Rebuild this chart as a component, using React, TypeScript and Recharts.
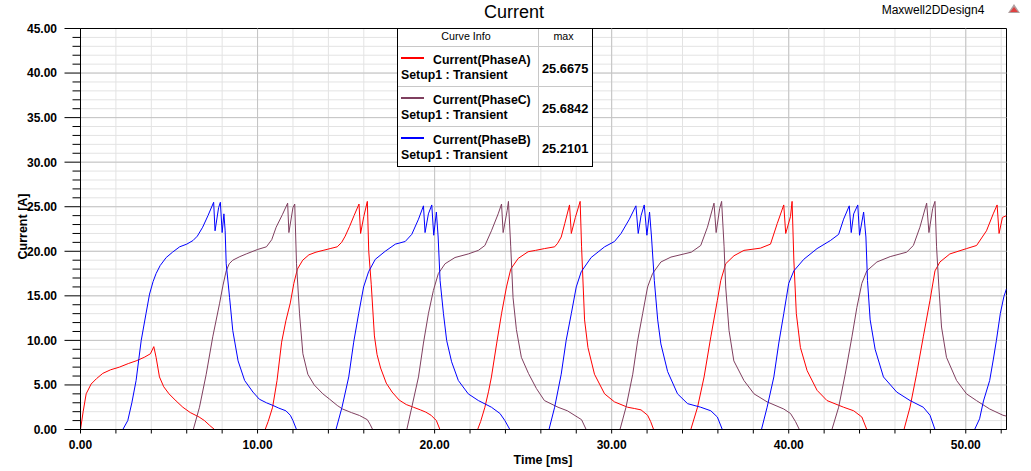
import React from "react";
import { LineChart, Line, XAxis, YAxis, CartesianGrid, ReferenceLine, ReferenceArea } from "recharts";

const FONT = "Arial, 'Liberation Sans', sans-serif";

// [time ms, current A]; null breaks between pulses
const phaseA: [number, number | null][] = [
  [0, 0], [0.15, 2.0], [0.32, 4.0], [0.6, 5.1], [0.9, 5.7], [1.26, 6.3], [1.7, 6.7], [2.2, 7.0], [2.7, 7.4], [3.14, 7.7], [3.6, 8.1], [3.95, 8.5], [4.14, 9.3], [4.27, 8.1], [4.46, 5.9], [4.7, 4.8], [5.0, 4.0], [5.4, 3.2], [5.78, 2.5], [6.2, 1.9], [6.7, 1.4], [7.0, 1.0], [7.3, 0.45], [7.57, 0],
  [9, null],
  [10.43, 0], [10.6, 0.9], [10.85, 2.5], [11.1, 5.5], [11.36, 9.8], [11.6, 12.2], [11.85, 14.2], [12.05, 16.4], [12.25, 18.0], [12.55, 19.0], [12.9, 19.6], [13.3, 19.9], [13.7, 20.1], [14.1, 20.3], [14.5, 20.5], [14.75, 21.0], [14.95, 21.7], [15.2, 22.8], [15.45, 24.0], [15.73, 25.3], [15.82, 22.0], [16.0, 23.9], [16.2, 25.6], [16.28, 20.0], [16.42, 16.3], [16.6, 10.5], [16.75, 8.4], [16.95, 6.9], [17.27, 5.2], [17.6, 4.2], [18.0, 3.3], [18.4, 2.8], [18.8, 2.5], [19.2, 2.2], [19.5, 1.95], [19.8, 1.6], [20.1, 1.0], [20.3, 0],
  [21, null],
  [22.43, 0], [22.6, 0.9], [22.84, 2.5], [23.05, 4.3], [23.21, 5.9], [23.5, 9.6], [23.78, 13.0], [24.06, 16.0], [24.3, 18.0], [24.72, 19.2], [25.28, 19.95], [25.7, 20.1], [26.2, 20.3], [26.78, 20.5], [26.95, 20.9], [27.15, 21.6], [27.35, 23.1], [27.62, 25.2], [27.72, 22.0], [27.95, 23.8], [28.22, 25.6], [28.3, 20.5], [28.47, 12.3], [28.66, 9.2], [29.03, 6.2], [29.6, 4.0], [30.16, 3.1], [30.9, 2.5], [31.3, 2.35], [31.66, 2.2], [32.03, 1.6], [32.2, 0.9], [32.37, 0],
  [33, null],
  [34.47, 0], [34.85, 2.5], [35.22, 5.9], [35.6, 10.4], [35.97, 14.5], [36.16, 16.7], [36.44, 18.6], [36.91, 19.5], [37.47, 20.1], [38.4, 20.35], [38.97, 20.8], [39.35, 23.1], [39.72, 25.2], [39.83, 22.0], [40.1, 23.9], [40.19, 25.6], [40.29, 19.0], [40.43, 13.0], [40.66, 9.2], [41.04, 6.6], [41.6, 4.4], [42.16, 3.25], [43.1, 2.5], [43.67, 2.1], [44.13, 1.4], [44.41, 0],
  [45, null],
  [46.51, 0], [46.85, 2.5], [47.22, 6.2], [47.6, 10.4], [47.98, 14.5], [48.26, 17.8], [48.54, 18.8], [49.1, 19.7], [50.04, 20.3], [50.61, 20.65], [51.17, 22.3], [51.55, 24.2], [51.77, 25.2], [51.88, 22.0], [52.07, 23.8], [52.3, 24.0],
];

const phaseC: [number, number | null][] = [
  [6.37, 0], [6.72, 2.5], [7.1, 6.2], [7.47, 10.4], [7.85, 14.1], [8.05, 16.2], [8.23, 17.8], [8.4, 18.6], [8.6, 19.0], [9.0, 19.4], [9.36, 19.7], [10.0, 20.2], [10.5, 20.5], [10.8, 21.3], [11.05, 22.7], [11.4, 24.1], [11.7, 25.4], [11.77, 22.1], [12.0, 24.9], [12.1, 25.3], [12.2, 18.6], [12.37, 13.0], [12.56, 8.5], [12.84, 6.2], [13.2, 5.0], [13.69, 4.0], [14.07, 3.4], [14.5, 2.7], [14.8, 2.3], [15.3, 1.9], [15.76, 1.57], [16.2, 1.1], [16.35, 0.6], [16.5, 0],
  [17, null],
  [18.43, 0], [18.71, 2.5], [19.09, 5.9], [19.37, 9.7], [19.65, 13.0], [19.93, 15.6], [20.21, 17.5], [20.59, 18.6], [21.15, 19.3], [21.9, 19.7], [22.47, 20.1], [22.84, 20.65], [23.21, 22.3], [23.59, 24.2], [23.78, 25.3], [23.87, 22.1], [24.1, 24.6], [24.17, 25.6], [24.3, 20.5], [24.43, 14.8], [24.62, 11.2], [24.9, 8.1], [25.3, 6.3], [25.75, 4.6], [26.2, 3.25], [26.97, 2.5], [27.5, 2.1], [28.3, 1.1], [28.56, 0],
  [29, null],
  [30.47, 0], [30.81, 2.5], [31.19, 6.2], [31.47, 10.0], [31.75, 13.0], [32.03, 16.0], [32.31, 17.5], [32.78, 18.8], [33.35, 19.35], [34.5, 19.9], [35.03, 20.65], [35.41, 22.7], [35.78, 25.4], [35.9, 22.1], [36.1, 24.8], [36.21, 25.6], [36.35, 20.5], [36.44, 16.0], [36.63, 11.1], [36.9, 7.7], [37.47, 5.5], [38.04, 4.0], [38.78, 3.1], [39.72, 2.3], [40.1, 1.8], [40.38, 0.9], [40.6, 0],
  [41, null],
  [42.44, 0], [42.82, 2.5], [43.19, 6.2], [43.57, 10.4], [43.85, 13.7], [44.13, 16.4], [44.41, 17.8], [44.98, 18.8], [45.73, 19.4], [46.66, 19.9], [47.04, 20.65], [47.41, 22.7], [47.79, 25.4], [47.92, 22.1], [48.13, 24.8], [48.26, 25.6], [48.35, 20.5], [48.48, 16.0], [48.63, 11.5], [48.91, 8.1], [49.48, 5.5], [50.04, 4.0], [50.6, 3.25], [51.35, 2.3], [52.1, 1.6], [52.3, 1.5],
];

const phaseB: [number, number | null][] = [
  [2.39, 0], [2.67, 1.0], [2.9, 3.0], [3.14, 5.5], [3.3, 8.0], [3.43, 10.0], [3.7, 13.0], [3.9, 15.2], [4.1, 16.6], [4.27, 17.5], [4.5, 18.4], [4.84, 19.3], [5.2, 19.9], [5.6, 20.5], [6.0, 20.8], [6.35, 21.2], [6.6, 21.7], [6.9, 22.7], [7.2, 24.0], [7.52, 25.5], [7.6, 22.3], [7.8, 24.9], [7.9, 25.5], [8.0, 22.1], [8.1, 24.2], [8.17, 22.3], [8.23, 18.6], [8.42, 14.8], [8.6, 11.1], [8.9, 7.7], [9.27, 5.5], [9.74, 4.2], [10.1, 3.4], [10.5, 3.0], [10.87, 2.7], [11.2, 2.4], [11.6, 2.1], [11.85, 1.6], [12.0, 1.0], [12.2, 0],
  [13, null],
  [14.43, 0], [14.77, 2.5], [15.15, 5.9], [15.43, 9.8], [15.71, 13.0], [15.99, 16.0], [16.27, 17.7], [16.65, 19.1], [17.21, 20.0], [17.78, 20.8], [18.34, 21.1], [18.71, 21.9], [19.09, 23.6], [19.37, 25.1], [19.46, 22.1], [19.65, 24.2], [19.84, 25.2], [19.95, 21.8], [20.1, 24.4], [20.2, 21.6], [20.31, 16.7], [20.5, 13.0], [20.68, 10.0], [20.96, 7.6], [21.34, 5.5], [21.9, 4.0], [22.47, 3.25], [23.21, 2.5], [23.69, 1.8], [23.97, 1.0], [24.25, 0],
  [25, null],
  [26.46, 0], [26.78, 2.5], [27.15, 6.2], [27.43, 10.0], [27.72, 13.0], [28.0, 16.0], [28.28, 17.7], [28.84, 19.3], [29.6, 20.5], [30.16, 21.1], [30.53, 22.0], [31.0, 23.6], [31.37, 25.1], [31.5, 22.0], [31.66, 24.0], [31.84, 25.2], [31.99, 21.8], [32.14, 24.4], [32.25, 21.6], [32.41, 16.7], [32.6, 12.3], [32.78, 9.6], [33.16, 6.5], [33.72, 4.0], [34.29, 2.9], [35.03, 2.5], [35.6, 2.1], [35.97, 1.4], [36.25, 0],
  [37, null],
  [38.46, 0], [38.78, 2.5], [39.16, 5.9], [39.44, 9.7], [39.72, 13.0], [40.0, 16.4], [40.29, 17.8], [40.85, 19.1], [41.6, 20.3], [42.35, 21.2], [42.82, 21.9], [43.1, 23.6], [43.42, 25.1], [43.53, 22.1], [43.67, 24.2], [43.9, 25.2], [44.0, 21.8], [44.23, 24.4], [44.36, 21.6], [44.45, 16.7], [44.6, 12.3], [44.88, 9.0], [45.35, 5.9], [46.1, 4.2], [46.85, 3.25], [47.6, 2.5], [47.98, 1.6], [48.26, 0],
  [49, null],
  [50.5, 0], [50.78, 1.2], [51.0, 3.2], [51.35, 5.5], [51.55, 7.8], [51.73, 10.0], [51.95, 13.0], [52.15, 14.9], [52.3, 15.8],
];

const xTicks = [0, 2, 4, 6, 8, 10, 12, 14, 16, 18, 20, 22, 24, 26, 28, 30, 32, 34, 36, 38, 40, 42, 44, 46, 48, 50, 52];
const xMajor = [10, 20, 30, 40, 50];
const yTicks = Array.from({ length: 46 }, (_, i) => i);
const yMajor = [5, 10, 15, 20, 25, 30, 35, 40];

const legendNames = ["Current(PhaseA)", "Current(PhaseC)", "Current(PhaseB)"];
const legendSetup = ["Setup1 : Transient", "Setup1 : Transient", "Setup1 : Transient"];
const legendMax = ["25.6675", "25.6842", "25.2101"];
const colors = ["#ff0000", "#7f3f5f", "#0000ff"];

const toRows = (arr: [number, number | null][]) => arr.map(([t, v]) => ({ t, v }));

const XTick = (props: any) => {
  const { x, y, payload } = props;
  const v = payload.value;
  const major = Math.abs(v % 10) < 1e-9;
  return (
    <g>
      <line x1={x} y1={y} x2={x} y2={y + 4} stroke="#000" strokeWidth={1} />
      {major && (
        <text x={x} y={y + 19.3} textAnchor="middle" fontFamily={FONT} fontWeight="bold" fontSize={12} fill="#000">
          {v.toFixed(2)}
        </text>
      )}
    </g>
  );
};

const YTick = (props: any) => {
  const { x, y, payload } = props;
  const v = payload.value;
  const major = v % 5 === 0;
  return (
    <g>
      <line x1={x - (major ? 16 : 8)} y1={y} x2={x} y2={y} stroke="#000" strokeWidth={1} />
      {major && (
        <text x={x - 23.5} y={y + 4.4} textAnchor="end" fontFamily={FONT} fontWeight="bold" fontSize={12} fill="#000">
          {v.toFixed(2)}
        </text>
      )}
    </g>
  );
};

export default function App() {
  const series = [phaseA, phaseC, phaseB];
  return (
    <div style={{ position: "absolute", left: 0, top: 0, width: 1031, height: 471, background: "#fff" }}>
      <LineChart width={1031} height={471} margin={{ top: 28.5, right: 24.5, bottom: 0, left: 0 }}>
        <CartesianGrid stroke="#e3e3e3" strokeWidth={1} />
        {xMajor.map((v) => (
          <ReferenceLine key={"xm" + v} x={v} stroke="#c4c4c4" strokeWidth={1} />
        ))}
        {yMajor.map((v) => (
          <ReferenceLine key={"ym" + v} y={v} stroke="#c4c4c4" strokeWidth={1} />
        ))}
        <XAxis
          type="number"
          dataKey="t"
          domain={[0, 52.3]}
          allowDataOverflow
          ticks={xTicks}
          interval={0}
          tick={XTick}
          tickLine={false}
          tickSize={0}
          tickMargin={0}
          height={41.5}
          axisLine={{ stroke: "#000" }}
        />
        <YAxis
          type="number"
          domain={[0, 45]}
          allowDataOverflow
          ticks={yTicks}
          interval={0}
          tick={YTick}
          tickLine={false}
          tickSize={0}
          tickMargin={0}
          width={80.5}
          axisLine={{ stroke: "#000" }}
        />
        <ReferenceArea x1={0} x2={52.3} y1={0} y2={45} fill="none" stroke="#000" strokeWidth={1} />
        {series.map((s, i) => (
          <Line
            key={legendNames[i]}
            data={toRows(s)}
            dataKey="v"
            type="linear"
            stroke={colors[i]}
            strokeWidth={1}
            dot={false}
            activeDot={false}
            connectNulls={false}
            isAnimationActive={false}
          />
        ))}
      </LineChart>
      <svg width={1031} height={471} style={{ position: "absolute", left: 0, top: 0, pointerEvents: "none" }}>
        <text x={514} y={18} textAnchor="middle" fontFamily={FONT} fontSize={18} fill="#000">Current</text>
        <text x={933} y={14} textAnchor="middle" fontFamily={FONT} fontSize={12} fill="#000">Maxwell2DDesign4</text>
        <polygon points="1014,4 1020,13 1008,13" fill="#b0a0a0" />
        <polygon points="1014,7 1018,12 1010,12" fill="#e04040" />
        <text x={27} y={226.5} transform="rotate(-90 27 226.5)" textAnchor="middle" fontFamily={FONT} fontWeight="bold" fontSize={12.5} fill="#000">Current [A]</text>
        <text x={543} y={463.5} textAnchor="middle" fontFamily={FONT} fontWeight="bold" fontSize={12.5} fill="#000">Time [ms]</text>
        <g>
          <rect x={397.5} y={28.5} width={195} height={138} fill="#fff" stroke="none" />
          <line x1={397.5} y1={46.5} x2={592.5} y2={46.5} stroke="#c8c8c8" />
          <line x1={397.5} y1={86.5} x2={592.5} y2={86.5} stroke="#c8c8c8" />
          <line x1={397.5} y1={126.5} x2={592.5} y2={126.5} stroke="#c8c8c8" />
          <line x1={538.5} y1={28.5} x2={538.5} y2={166.5} stroke="#c8c8c8" />
          <rect x={397.5} y={28.5} width={195} height={138} fill="none" stroke="#000" />
          <text x={466} y={40} textAnchor="middle" fontFamily={FONT} fontSize={10.7} fill="#000">Curve Info</text>
          <text x={563.5} y={40} textAnchor="middle" fontFamily={FONT} fontSize={10.7} fill="#000">max</text>
          {legendNames.map((n, i) => {
            const top = 46 + i * 40;
            return (
              <g key={n}>
                <line x1={401} y1={top + 12} x2={424} y2={top + 12} stroke={colors[i]} strokeWidth={2} />
                <text x={433} y={top + 17.5} fontFamily={FONT} fontWeight="bold" fontSize={12.3} fill="#000">{n}</text>
                <text x={401} y={top + 33} fontFamily={FONT} fontWeight="bold" fontSize={12.3} fill="#000">{legendSetup[i]}</text>
                <text x={542} y={top + 26.5} fontFamily={FONT} fontWeight="bold" fontSize={12.8} fill="#000">{legendMax[i]}</text>
              </g>
            );
          })}
        </g>
      </svg>
    </div>
  );
}
